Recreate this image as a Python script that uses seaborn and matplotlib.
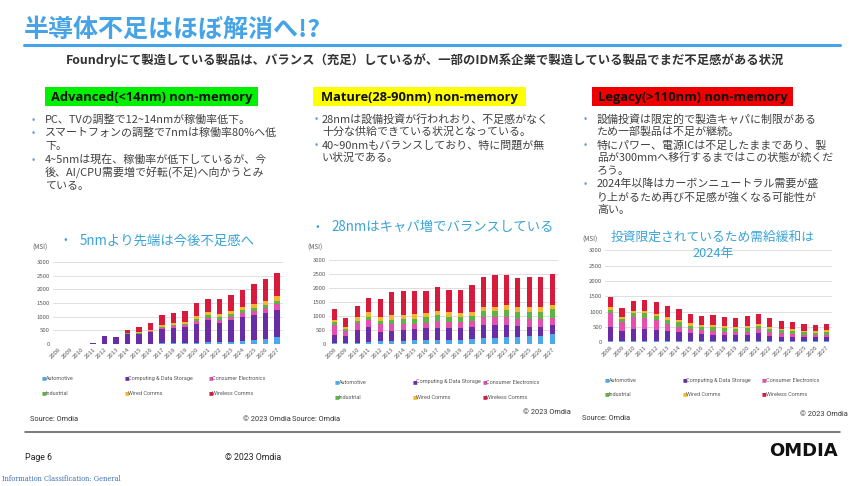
import matplotlib
matplotlib.use("Agg")
import matplotlib.pyplot as plt
import seaborn as sns
import pandas as pd
from matplotlib.patches import Rectangle
from matplotlib.lines import Line2D

# ---------------- data ----------------
years = list(range(2008, 2028))
segments = ["Automotive", "Computing & Data Storage", "Consumer Electronics",
            "Industrial", "Wired Comms", "Wireless Comms"]
seg_colors = ["#4ea9ea", "#6a2ca6", "#e64fae", "#5db445", "#f4b630", "#d81b3c"]

# Advanced (<14nm)
adv_automotive = [0, 0, 0, 0, 5, 5, 10, 10, 15, 20, 20, 25, 30, 60, 80, 90, 120, 150, 200, 240]
adv_computing = [0, 0, 0, 30, 275, 255, 350, 350, 415, 520, 580, 615, 720, 800, 700, 790, 870, 910, 930, 1010]
adv_consumer = [0, 0, 0, 0, 0, 0, 20, 20, 30, 40, 50, 50, 80, 100, 100, 110, 130, 150, 170, 200]
adv_industrial = [0, 0, 0, 0, 0, 0, 10, 15, 20, 40, 50, 50, 70, 90, 90, 100, 110, 120, 130, 130]
adv_wired = [0, 0, 0, 0, 0, 0, 20, 30, 50, 70, 80, 80, 110, 120, 130, 130, 140, 150, 150, 170]
adv_wireless = [0, 0, 0, 20, 10, 10, 120, 185, 250, 360, 350, 400, 500, 480, 550, 560, 620, 710, 790, 840]

# Mature (28-90nm)
mat_automotive = [40, 30, 50, 70, 90, 90, 110, 130, 140, 160, 160, 160, 170, 200, 230, 240, 260, 290, 300, 350]
mat_computing = [290, 250, 450, 540, 350, 390, 390, 400, 420, 420, 400, 400, 420, 480, 450, 450, 380, 330, 300, 320]
mat_consumer = [350, 190, 260, 260, 280, 240, 220, 190, 200, 240, 210, 220, 230, 280, 280, 270, 270, 290, 310, 270]
mat_industrial = [90, 80, 70, 110, 90, 130, 160, 180, 200, 200, 200, 180, 190, 220, 230, 240, 230, 230, 230, 300]
mat_wired = [80, 60, 120, 150, 170, 190, 150, 160, 140, 160, 160, 150, 150, 150, 140, 180, 180, 190, 180, 170]
mat_wireless = [410, 320, 390, 500, 630, 800, 860, 830, 810, 870, 810, 810, 960, 1050, 1120, 1070, 1040, 1080, 1070, 1080]

# Legacy (>110nm)
leg_automotive = [30, 30, 30, 30, 30, 30, 30, 30, 25, 25, 25, 25, 25, 25, 25, 20, 20, 20, 20, 20]
leg_computing = [470, 340, 400, 410, 370, 320, 300, 260, 235, 215, 205, 195, 205, 255, 185, 160, 150, 130, 130, 150]
leg_consumer = [440, 280, 380, 350, 310, 240, 170, 130, 120, 120, 110, 100, 110, 140, 120, 100, 90, 80, 70, 70]
leg_industrial = [120, 120, 140, 170, 130, 140, 140, 120, 120, 130, 120, 120, 120, 120, 110, 100, 100, 100, 90, 100]
leg_wired = [80, 60, 70, 70, 90, 80, 70, 70, 60, 70, 60, 60, 60, 50, 50, 40, 50, 40, 40, 40]
leg_wireless = [320, 280, 320, 350, 380, 370, 380, 310, 280, 320, 300, 290, 330, 330, 300, 260, 240, 220, 210, 200]

y_ticks = [0, 500, 1000, 1500, 2000, 2500, 3000]

# ---------------- setup ----------------
sns.set_theme(style="white")
plt.rcParams["font.family"] = ["Noto Sans CJK JP", "DejaVu Sans"]

W, H = 864, 486
fig = plt.figure(figsize=(8.64, 4.86), dpi=100)
fig.patch.set_facecolor("white")


def fx(x):
    return x / W


def fy(y):
    return 1 - y / H


def ftext(x, y, s, **kw):
    kw.setdefault("va", "center")
    kw.setdefault("ha", "left")
    fig.text(fx(x), fy(y), s, **kw)


NARROW = ["Liberation Sans Narrow", "Roboto", "DejaVu Sans"]

# ---------------- title ----------------
ftext(24, 30, "半導体不足はほぼ解消へ!?", fontsize=18, fontweight="bold", color="#45a3e6")
fig.add_artist(Line2D([fx(24), fx(840)], [fy(45), fy(45)], color="#45a3e6", lw=2.2))
ftext(425, 60, "Foundryにて製造している製品は、バランス（充足）しているが、一部のIDM系企業で製造している製品でまだ不足感がある状況",
      fontsize=8.9, fontweight="bold", color="#333333", ha="center")

# ---------------- headers ----------------
headers = [
    (45, 258, "Advanced(<14nm) non-memory", "#00f000"),
    (313, 526, "Mature(28-90nm) non-memory", "#ffff00"),
    (592, 793, "Legacy(>110nm) non-memory", "#ee0000"),
]
for x0, x1, s, c in headers:
    fig.add_artist(Rectangle((fx(x0), fy(106)), fx(x1) - fx(x0), fy(87) - fy(106),
                             facecolor=c, edgecolor="none"))
    ftext((x0 + x1) / 2, 97, s, fontsize=9.3, fontweight="bold", color="#111111",
          ha="center", family=["Open Sans", "DejaVu Sans"])

# ---------------- bullets ----------------
bullet_color = "#5b9bd5"
text_color = "#404040"
cols = [
    (32, 45, [(120, "PC、TVの調整で12~14nmが稼働率低下。", True),
              (133, "スマートフォンの調整で7nmは稼働率80%へ低", True),
              (146, "下。", False),
              (160, "4~5nmは現在、稼働率が低下しているが、今", True),
              (173, "後、AI/CPU需要増で好転(不足)へ向かうとみ", False),
              (186, "ている。", False)]),
    (315, 322, [(119, "28nmは設備投資が行われおり、不足感がなく", True),
                (132, "十分な供給できている状況となっている。", False),
                (145, "40~90nmもバランスしており、特に問題が無", True),
                (158, "い状況である。", False)]),
    (584, 597, [(119, "設備投資は限定的で製造キャパに制限がある", True),
                (132, "ため一部製品は不足が継続。", False),
                (145, "特にパワー、電源ICは不足したままであり、製", True),
                (158, "品が300mmへ移行するまではこの状態が続くだ", False),
                (171, "ろう。", False),
                (184, "2024年以降はカーボンニュートラル需要が盛", True),
                (197, "り上がるため再び不足感が強くなる可能性が", False),
                (210, "高い。", False)]),
]
for bx, tx, lines in cols:
    for y, s, has_b in lines:
        if has_b:
            ftext(bx, y, "•", fontsize=7, color=bullet_color)
        ftext(tx, y, s, fontsize=7.9, color=text_color)

# ---------------- charts ----------------
charts = [
    dict(series=[adv_automotive, adv_computing, adv_consumer, adv_industrial, adv_wired, adv_wireless],
         ax=(52.8, 282.8, 262, 344),
         title=[(63, 80, 240, "5nmより先端は今後不足感へ")], msi=(32, 248),
         leg=(42, 125, 209, 378, 393), src=(30, 419), cp=(243, 419)),
    dict(series=[mat_automotive, mat_computing, mat_consumer, mat_industrial, mat_wired, mat_wireless],
         ax=(328.6, 558.0, 260, 344),
         title=[(315, 331, 227, "28nmはキャパ増でバランスしている")], msi=(307, 248),
         leg=(335, 413, 483, 382, 397), src=(292, 419), cp=(523, 413)),
    dict(series=[leg_automotive, leg_computing, leg_consumer, leg_industrial, leg_wired, leg_wireless],
         ax=(605.0, 832.4, 250.5, 342),
         title=None, msi=(582, 240),
         leg=(605, 683, 762, 380, 394), src=(582, 418), cp=(800, 414)),
]

title_color = "#3aa3d6"
for ch in charts:
    x0, x1, yt, yb = ch["ax"]
    ax = fig.add_axes([fx(x0), fy(yb), fx(x1) - fx(x0), fy(yt) - fy(yb)])
    rows = []
    for seg, vals in zip(segments, ch["series"]):
        for yr, v in zip(years, vals):
            rows.append({"year": yr, "segment": seg, "value": v})
    df = pd.DataFrame(rows)
    sns.histplot(data=df, x="year", weights="value", hue="segment",
                 hue_order=segments[::-1], palette=dict(zip(segments, seg_colors)),
                 multiple="stack", discrete=True, shrink=0.46, alpha=1,
                 linewidth=0, legend=False, ax=ax)
    ax.set_xlim(2007.5, 2027.5)
    ax.set_ylim(0, 3000)
    ax.set_yticks(y_ticks)
    ax.set_yticklabels([str(t) for t in y_ticks], fontsize=4.3, color="#595959")
    ax.set_xticks(years)
    ax.set_xticklabels([str(y) for y in years], rotation=45, ha="right",
                       rotation_mode="anchor", fontsize=4.3, color="#595959")
    ax.tick_params(axis="both", length=0, pad=2)
    ax.set_xlabel("")
    ax.set_ylabel("")
    ax.set_facecolor("none")
    for sp in ax.spines.values():
        sp.set_visible(False)
    ax.grid(axis="y", color="#d9d9d9", lw=0.6)
    ax.set_axisbelow(True)

    # title
    if ch["title"]:
        for bx, tx, y, s in ch["title"]:
            ftext(bx, y, "•", fontsize=8, color=title_color)
            ftext(tx, y, s, fontsize=9.6, color=title_color)
    ftext(ch["msi"][0], ch["msi"][1], "(MSI)", fontsize=4.6, color="#595959")

    # legend
    lx = ch["leg"][:3]
    ly = ch["leg"][3:]
    for i, (seg, c) in enumerate(zip(segments, seg_colors)):
        xx = lx[i % 3]
        yy = ly[i // 3]
        ftext(xx, yy, "■", fontsize=3.6, color=c, family="DejaVu Sans")
        ftext(xx + 3.5, yy, seg, fontsize=4.0, color="#595959", family=NARROW)

    ftext(ch["src"][0], ch["src"][1], "Source: Omdia", fontsize=5.3, color="#333333",
          family=NARROW)
    ftext(ch["cp"][0], ch["cp"][1], "© 2023 Omdia", fontsize=5.3, color="#333333",
          family=NARROW)

# chart 3 two-line title
ftext(713, 237, "投資限定されているため需給緩和は", fontsize=9.2, color=title_color, ha="center")
ftext(713, 253, "2024年", fontsize=9.2, color=title_color, ha="center")

# ---------------- footer ----------------
fig.add_artist(Line2D([fx(25), fx(840)], [fy(432), fy(432)], color="#555555", lw=1.1))
ftext(25, 457, "Page 6", fontsize=6.3, color="#222222", family=["Roboto", "DejaVu Sans"])
ftext(225, 457, "© 2023 Omdia", fontsize=6.3, color="#222222", family=["Roboto", "DejaVu Sans"])
ftext(838, 451, "OMDIA", fontsize=13, fontweight="bold", color="#111111", ha="right",
      family=["DejaVu Sans"])
ftext(2, 479, "Information Classification: General", fontsize=4.8, color="#3b6fb5",
      family=["DejaVu Serif"])

fig.savefig("out.png", dpi=100, facecolor="white")
